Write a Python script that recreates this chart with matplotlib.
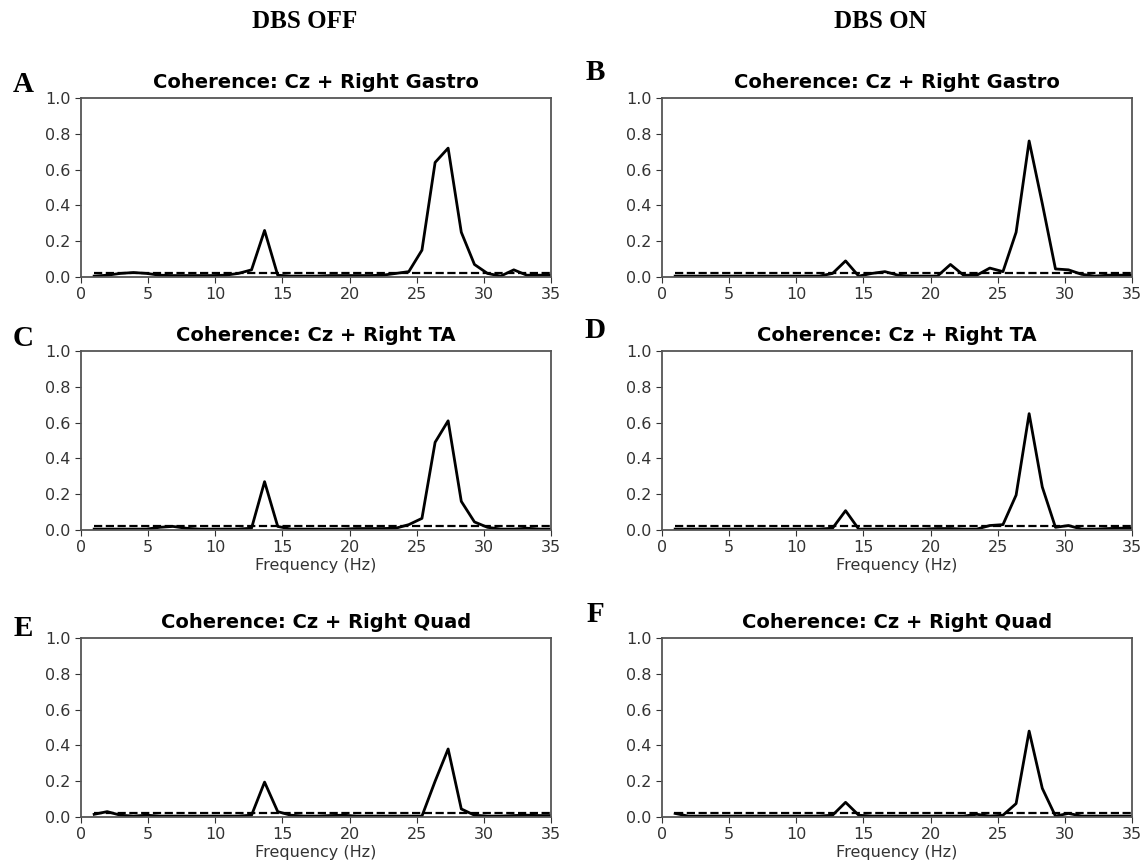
import matplotlib.pyplot as plt

# frequency bins (Hz)
freqs = [0.98, 1.95, 2.93, 3.91, 4.88, 5.86, 6.84, 7.81, 8.79, 9.77, 10.74, 11.72,
         12.70, 13.67, 14.65, 15.62, 16.60, 17.58, 18.55, 19.53, 20.51, 21.48, 22.46, 23.44,
         24.41, 25.39, 26.37, 27.34, 28.32, 29.30, 30.27, 31.25, 32.23, 33.20, 34.18, 35.16]

# significance level (dashed)
sig_level = 0.02

# DBS OFF
gastro_off = [0.005, 0.01, 0.02, 0.025, 0.02, 0.01, 0.008, 0.008, 0.008, 0.008, 0.01, 0.02,
              0.04, 0.26, 0.01, 0.005, 0.005, 0.005, 0.008, 0.008, 0.008, 0.008, 0.01, 0.02,
              0.03, 0.15, 0.64, 0.72, 0.25, 0.07, 0.02, 0.005, 0.04, 0.01, 0.01, 0.01]
ta_off = [0.005, 0.005, 0.005, 0.005, 0.005, 0.015, 0.02, 0.01, 0.005, 0.005, 0.005, 0.005,
          0.01, 0.27, 0.02, 0.005, 0.005, 0.005, 0.005, 0.005, 0.008, 0.008, 0.008, 0.01,
          0.03, 0.065, 0.49, 0.61, 0.16, 0.045, 0.015, 0.005, 0.005, 0.01, 0.005, 0.005]
quad_off = [0.015, 0.03, 0.01, 0.005, 0.01, 0.005, 0.005, 0.005, 0.005, 0.005, 0.005, 0.005,
            0.01, 0.195, 0.03, 0.01, 0.005, 0.005, 0.008, 0.01, 0.005, 0.005, 0.005, 0.005,
            0.005, 0.005, 0.20, 0.38, 0.045, 0.01, 0.005, 0.005, 0.008, 0.01, 0.008, 0.008]

# DBS ON
gastro_on = [0.005, 0.005, 0.005, 0.005, 0.005, 0.005, 0.005, 0.005, 0.005, 0.005, 0.005, 0.005,
             0.02, 0.09, 0.005, 0.02, 0.03, 0.01, 0.005, 0.005, 0.005, 0.07, 0.01, 0.01,
             0.05, 0.03, 0.25, 0.76, 0.41, 0.045, 0.04, 0.015, 0.005, 0.01, 0.01, 0.01]
ta_on = [0.005, 0.005, 0.005, 0.005, 0.005, 0.005, 0.005, 0.005, 0.005, 0.005, 0.005, 0.005,
         0.01, 0.108, 0.005, 0.005, 0.005, 0.005, 0.005, 0.005, 0.008, 0.008, 0.005, 0.005,
         0.025, 0.03, 0.195, 0.65, 0.24, 0.015, 0.025, 0.005, 0.005, 0.008, 0.01, 0.01]
quad_on = [0.02, 0.005, 0.005, 0.005, 0.005, 0.005, 0.005, 0.005, 0.005, 0.005, 0.005, 0.005,
           0.01, 0.082, 0.01, 0.005, 0.005, 0.005, 0.005, 0.005, 0.005, 0.005, 0.005, 0.015,
           0.005, 0.01, 0.075, 0.48, 0.16, 0.005, 0.02, 0.005, 0.005, 0.005, 0.005, 0.005]

titles = ['Coherence: Cz + Right Gastro', 'Coherence: Cz + Right TA', 'Coherence: Cz + Right Quad']
letters = [['A', 'B'], ['C', 'D'], ['E', 'F']]
series = [[gastro_off, gastro_on], [ta_off, ta_on], [quad_off, quad_on]]

W, H = 1148, 868
fig = plt.figure(figsize=(W / 100, H / 100), dpi=100)

col_left = [81, 662]
row_top = [98, 351, 638]
ax_w, ax_h = 470, 179
letter_pos = [[(23, 85), (595, 72)], [(23, 338), (595, 330)], [(23, 628), (595, 615)]]

for r in range(3):
    for c in range(2):
        ax = fig.add_axes([col_left[c] / W, 1 - (row_top[r] + ax_h) / H, ax_w / W, ax_h / H])
        ax.plot(freqs, series[r][c], color='black', lw=2)
        ax.plot([freqs[0], freqs[-1]], [sig_level, sig_level], '--', color='black', lw=1.6)
        ax.set_xlim(0, 35)
        ax.set_ylim(0, 1.0)
        ax.set_xticks([0, 5, 10, 15, 20, 25, 30, 35])
        ax.set_yticks([0.0, 0.2, 0.4, 0.6, 0.8, 1.0])
        ax.tick_params(labelsize=11.5, colors='#333333', length=4)
        for sp in ax.spines.values():
            sp.set_color('#555555')
            sp.set_linewidth(1.3)
        ax.set_title(titles[r], fontsize=14, fontweight='bold', pad=7)
        if r > 0:
            ax.set_xlabel('Frequency (Hz)', fontsize=11.5, color='#333333', labelpad=2)
        lx, ly = letter_pos[r][c]
        fig.text(lx / W, 1 - ly / H, letters[r][c], fontsize=21, fontweight='bold',
                 family='Liberation Serif', ha='center', va='center')

fig.text(305 / W, 1 - 22 / H, 'DBS OFF', fontsize=18, fontweight='bold',
         family='Liberation Serif', ha='center', va='center')
fig.text(880 / W, 1 - 22 / H, 'DBS ON', fontsize=18, fontweight='bold',
         family='Liberation Serif', ha='center', va='center')

fig.savefig('out.png', dpi=100)
